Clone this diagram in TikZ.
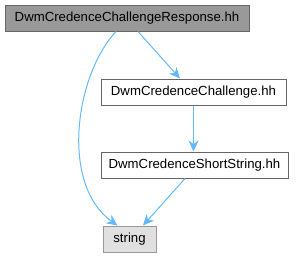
\documentclass[tikz,border=0pt]{standalone}
\usepackage{fontspec}
\setmainfont{Liberation Sans}
\usepackage{tikz}
\usetikzlibrary{arrows.meta, positioning}
\definecolor{edgeblue}{HTML}{63B8FF}
\definecolor{nodeborder}{HTML}{666666}
\definecolor{rootfill}{HTML}{999999}
\definecolor{sysfill}{HTML}{E0E0E0}
\definecolor{sysborder}{HTML}{999999}
\tikzset{
  file/.style={
    draw=nodeborder,
    line width=1pt,
    fill=white,
    minimum height=26pt,
    inner xsep=4pt,
    font=\fontsize{13.2}{15}\selectfont
  },
  root file/.style={file, fill=rootfill},
  sys file/.style={file, fill=sysfill, draw=sysborder},
  dep/.style={
    -{Stealth[length=11pt, width=10pt]},
    line width=1pt,
    color=edgeblue
  }
}
\begin{document}
\begin{tikzpicture}[x=1pt, y=-1pt]
  \useasboundingbox (0,0) rectangle (297,257);
  % Nodes
  \node[root file, minimum width=244pt] (resp) at (127,18) {DwmCredenceChallengeResponse.hh};
  \node[file, minimum width=185pt] (chal) at (193.5,92) {DwmCredenceChallenge.hh};
  \node[file, minimum width=187pt] (short) at (194.5,165) {DwmCredenceShortString.hh};
  \node[sys file, minimum width=53pt] (str) at (129.5,239) {string};

  % Edges
  \draw[dep] ([xshift=11pt]resp.south) -- ([xshift=-13.5pt]chal.north);
  \draw[dep] (chal.south) -- (chal.south |- short.north);
  \draw[dep] ([xshift=-9.5pt]short.south) -- ([xshift=13.5pt]str.north);
  \draw[dep] ([xshift=-11pt]resp.south) .. controls +(-41,44) and +(-57.5,-41) .. ([xshift=-12pt]str.north);
\end{tikzpicture}
\end{document}
